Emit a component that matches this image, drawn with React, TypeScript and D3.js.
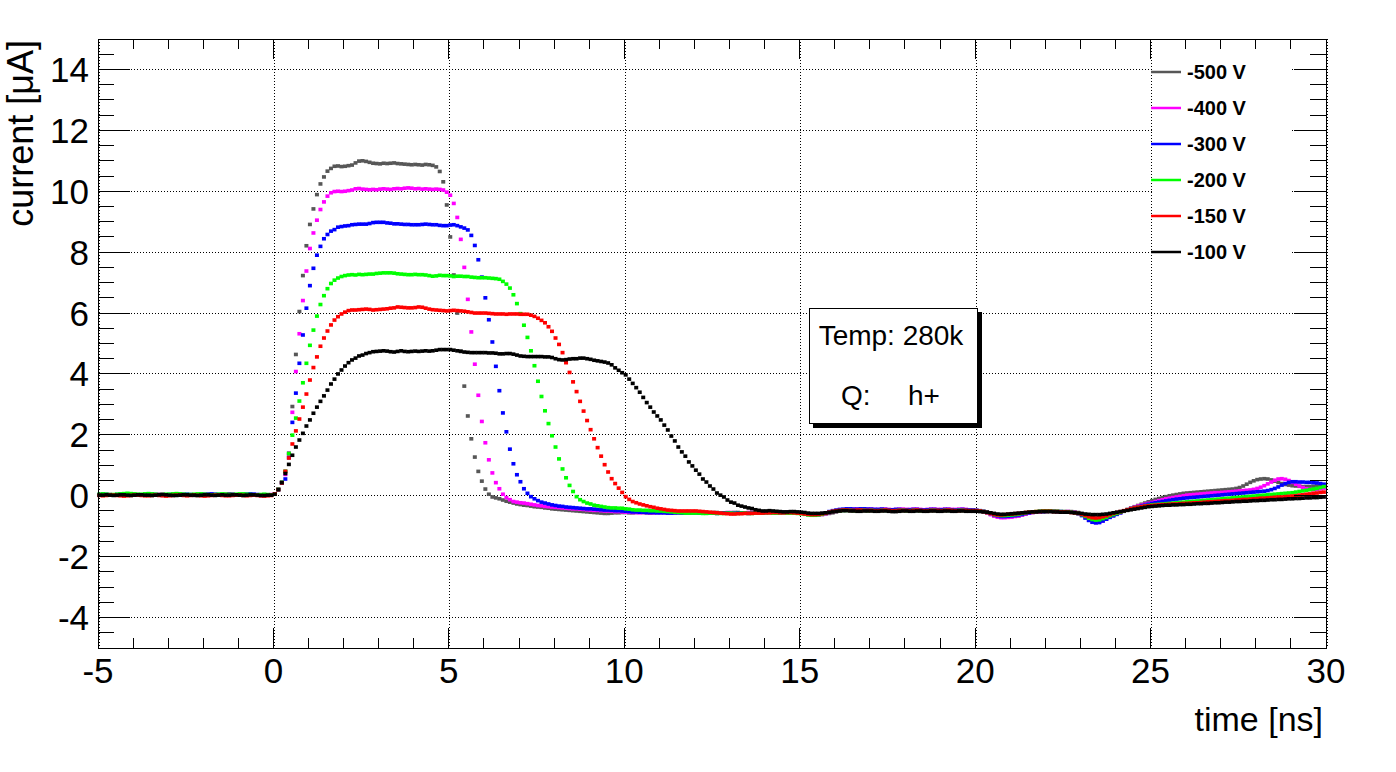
import React from "react";
import * as d3 from "d3";

// time axis of the samples: first sample and spacing (ns)
const T0 = -4.96;
const DT = 0.1;

const voltages = ["-500 V", "-400 V", "-300 V", "-200 V", "-150 V", "-100 V"];
const seriesColors = ["#575757", "#ff00ff", "#0000ff", "#00ff00", "#ff0000", "#000000"];

const xTickLabels = [-5, 0, 5, 10, 15, 20, 25, 30];
const yTickLabels = [-4, -2, 0, 2, 4, 6, 8, 10, 12, 14];

// current [uA], one value per sample
const i500 = [
  0.03,0.04,0.04,0.03,0.02,0.03,0.04,0.05,0.04,0.03, 0.02,0.02,0.03,0.04,0.04,0.03,0.02,0.03,0.04,0.03,
  0.03,0.04,0.05,0.05,0.04,0.03,0.02,0.01,0.02,0.03, 0.04,0.04,0.03,0.03,0.02,0.03,0.05,0.06,0.05,0.03,
  0.02,0.02,0.03,0.04,0.04,0.03,0.02,0.02,0.03,0.03,
  0.06,0.22,0.45,0.80,1.40,2.93,4.64,6.05,7.23,8.21,
  8.91,9.42,9.89,10.24,10.47,10.66,10.75,10.82,10.83,10.81,
  10.82,10.84,10.86,10.93,10.99,11.00,10.98,10.95,10.92,10.91,
  10.90,10.92,10.91,10.92,10.93,10.91,10.90,10.89,10.88,10.87,
  10.88,10.87,10.86,10.88,10.87,10.85,10.80,10.65,10.31,9.55,
  8.50,7.25,6.00,4.75,3.60,2.62,1.87,1.27,0.80,0.48,
  0.22,0.05,-0.04,-0.07,-0.10,-0.14,-0.18,-0.21,-0.24,-0.27,
  -0.29,-0.31,-0.32,-0.34,-0.36,-0.37,-0.38,-0.40,-0.41,-0.43,
  -0.44,-0.45,-0.46,-0.47,-0.48,-0.49,-0.50,-0.51,-0.52,-0.53,
  -0.54,-0.55,-0.56,-0.57,-0.58,-0.58,-0.57,-0.56,-0.56,-0.55,
  -0.55,-0.56,-0.56,-0.55,-0.54,-0.55,-0.56,-0.57,-0.56,-0.55,
  -0.55,-0.54,-0.55,-0.56,-0.56,-0.55,-0.54,-0.55,-0.56,-0.56,
  -0.55,-0.55,-0.56,-0.57,-0.56,-0.55,-0.55,-0.56,-0.57,-0.57,
  -0.56,-0.55,-0.55,-0.56,-0.57,-0.56,-0.55,-0.55,-0.56,-0.56,
  -0.55,-0.54,-0.55,-0.56,-0.55,-0.54,-0.55,-0.56,-0.56,-0.55,
  -0.56,-0.58,-0.60,-0.61,-0.62,-0.61,-0.60,-0.59,-0.58,-0.56,
  -0.53,-0.50,-0.48,-0.47,-0.47,-0.46,-0.46,-0.47,-0.47,-0.46,
  -0.46,-0.47,-0.47,-0.46,-0.46,-0.47,-0.48,-0.47,-0.46,-0.46,
  -0.47,-0.47,-0.46,-0.46,-0.47,-0.48,-0.47,-0.46,-0.46,-0.47,
  -0.47,-0.46,-0.46,-0.47,-0.47,-0.46,-0.46,-0.47,-0.48,-0.48,
  -0.49,-0.50,-0.52,-0.55,-0.60,-0.65,-0.68,-0.70,-0.70,-0.69,
  -0.68,-0.67,-0.66,-0.63,-0.60,-0.57,-0.55,-0.53,-0.52,-0.52,
  -0.52,-0.51,-0.51,-0.52,-0.53,-0.53,-0.52,-0.52,-0.53,-0.55,
  -0.60,-0.66,-0.72,-0.76,-0.78,-0.78,-0.75,-0.72,-0.68,-0.64,
  -0.60,-0.55,-0.50,-0.45,-0.40,-0.36,-0.32,-0.28,-0.24,-0.20,
  -0.16,-0.12,-0.09,-0.06,-0.03,0.00,0.02,0.04,0.06,0.08,
  0.09,0.10,0.11,0.12,0.13,0.14,0.15,0.16,0.17,0.18,
  0.19,0.20,0.21,0.22,0.24,0.27,0.32,0.38,0.44,0.49,
  0.53,0.55,0.56,0.55,0.52,0.48,0.44,0.40,0.37,0.35,
  0.33,0.32,0.31,0.30,0.30,0.30,0.31,0.32,0.33,0.34,
];

const i400 = [
  0.02,0.03,0.04,0.04,0.03,0.02,0.03,0.04,0.03,0.03, 0.04,0.04,0.03,0.02,0.02,0.03,0.04,0.05,0.04,0.03,
  0.02,0.02,0.03,0.04,0.04,0.03,0.03,0.02,0.03,0.04, 0.05,0.05,0.04,0.03,0.02,0.02,0.03,0.04,0.04,0.03,
  0.02,0.03,0.04,0.04,0.03,0.02,0.01,0.02,0.03,0.04,
  0.06,0.21,0.44,0.70,1.35,2.74,4.08,5.32,6.41,7.38,
  8.12,8.63,9.05,9.40,9.65,9.84,9.95,9.99,10.00,9.99,
  10.00,10.02,10.04,10.08,10.09,10.07,10.06,10.05,10.06,10.05,
  10.07,10.08,10.07,10.06,10.08,10.09,10.08,10.10,10.11,10.10,
  10.08,10.09,10.07,10.08,10.07,10.06,10.07,10.06,10.04,9.97,
  9.87,9.60,9.14,8.42,7.50,6.45,5.38,4.32,3.30,2.44,
  1.74,1.18,0.75,0.43,0.23,0.05,-0.06,-0.13,-0.19,-0.21,
  -0.23,-0.24,-0.26,-0.28,-0.30,-0.32,-0.33,-0.35,-0.36,-0.37,
  -0.38,-0.39,-0.40,-0.41,-0.42,-0.43,-0.43,-0.44,-0.45,-0.46,
  -0.47,-0.48,-0.48,-0.49,-0.50,-0.50,-0.51,-0.52,-0.52,-0.53,
  -0.54,-0.54,-0.55,-0.55,-0.56,-0.55,-0.55,-0.56,-0.56,-0.55,
  -0.55,-0.56,-0.56,-0.55,-0.55,-0.56,-0.57,-0.56,-0.55,-0.55,
  -0.56,-0.56,-0.55,-0.55,-0.56,-0.57,-0.57,-0.56,-0.56,-0.55,
  -0.55,-0.56,-0.57,-0.57,-0.56,-0.55,-0.55,-0.56,-0.56,-0.55,
  -0.55,-0.56,-0.56,-0.55,-0.55,-0.56,-0.57,-0.57,-0.56,-0.56,
  -0.57,-0.59,-0.61,-0.62,-0.63,-0.63,-0.62,-0.60,-0.57,-0.54,
  -0.51,-0.48,-0.46,-0.45,-0.45,-0.44,-0.44,-0.45,-0.45,-0.44,
  -0.44,-0.45,-0.45,-0.44,-0.44,-0.45,-0.46,-0.45,-0.44,-0.44,
  -0.45,-0.45,-0.44,-0.44,-0.45,-0.46,-0.45,-0.44,-0.44,-0.45,
  -0.45,-0.44,-0.44,-0.45,-0.45,-0.44,-0.44,-0.45,-0.46,-0.47,
  -0.48,-0.50,-0.53,-0.57,-0.62,-0.67,-0.70,-0.72,-0.72,-0.71,
  -0.70,-0.68,-0.66,-0.63,-0.60,-0.57,-0.55,-0.53,-0.52,-0.51,
  -0.51,-0.50,-0.50,-0.51,-0.52,-0.52,-0.52,-0.53,-0.55,-0.58,
  -0.64,-0.72,-0.80,-0.86,-0.88,-0.87,-0.82,-0.76,-0.70,-0.65,
  -0.60,-0.55,-0.50,-0.46,-0.42,-0.38,-0.34,-0.31,-0.28,-0.25,
  -0.22,-0.19,-0.16,-0.13,-0.10,-0.08,-0.06,-0.04,-0.02,0.00,
  0.02,0.03,0.04,0.05,0.06,0.07,0.08,0.09,0.10,0.10,
  0.11,0.12,0.13,0.14,0.15,0.16,0.17,0.18,0.19,0.21,
  0.24,0.28,0.33,0.39,0.45,0.51,0.55,0.56,0.54,0.50,
  0.44,0.38,0.32,0.27,0.23,0.21,0.20,0.21,0.23,0.25,
];

const i300 = [
  0.04,0.05,0.04,0.03,0.03,0.04,0.05,0.05,0.06,0.05, 0.04,0.03,0.03,0.04,0.05,0.05,0.04,0.03,0.02,0.03,
  0.04,0.04,0.03,0.03,0.04,0.05,0.04,0.03,0.03,0.04, 0.04,0.05,0.06,0.05,0.04,0.03,0.03,0.04,0.04,0.03,
  0.03,0.04,0.05,0.06,0.05,0.04,0.03,0.02,0.03,0.03,
  0.06,0.20,0.42,0.55,1.25,2.41,3.37,4.35,5.28,6.16,
  6.90,7.47,7.90,8.19,8.44,8.58,8.69,8.74,8.82,8.84,
  8.86,8.87,8.90,8.91,8.92,8.92,8.92,8.94,8.97,8.98,
  8.98,8.98,8.96,8.95,8.93,8.93,8.92,8.91,8.91,8.90,
  8.90,8.90,8.91,8.92,8.91,8.90,8.90,8.88,8.87,8.87,
  8.89,8.90,8.87,8.83,8.79,8.73,8.55,8.22,7.75,7.18,
  6.50,5.78,5.05,4.25,3.45,2.72,2.10,1.53,1.05,0.69,
  0.46,0.23,0.08,-0.03,-0.10,-0.16,-0.21,-0.24,-0.27,-0.30,
  -0.32,-0.34,-0.35,-0.37,-0.38,-0.39,-0.40,-0.41,-0.42,-0.43,
  -0.43,-0.44,-0.45,-0.46,-0.47,-0.47,-0.48,-0.49,-0.49,-0.50,
  -0.51,-0.52,-0.53,-0.53,-0.54,-0.54,-0.55,-0.55,-0.55,-0.56,
  -0.56,-0.56,-0.57,-0.57,-0.56,-0.56,-0.57,-0.57,-0.56,-0.56,
  -0.56,-0.57,-0.57,-0.56,-0.56,-0.57,-0.58,-0.57,-0.56,-0.56,
  -0.57,-0.57,-0.56,-0.56,-0.57,-0.58,-0.57,-0.56,-0.56,-0.56,
  -0.55,-0.54,-0.54,-0.55,-0.56,-0.55,-0.54,-0.54,-0.55,-0.56,
  -0.57,-0.59,-0.61,-0.62,-0.62,-0.61,-0.59,-0.56,-0.52,-0.49,
  -0.47,-0.45,-0.44,-0.43,-0.43,-0.44,-0.44,-0.43,-0.43,-0.44,
  -0.44,-0.45,-0.45,-0.44,-0.45,-0.46,-0.46,-0.45,-0.45,-0.46,
  -0.46,-0.46,-0.45,-0.45,-0.46,-0.47,-0.46,-0.45,-0.45,-0.46,
  -0.46,-0.45,-0.45,-0.46,-0.47,-0.46,-0.45,-0.46,-0.47,-0.47,
  -0.48,-0.49,-0.51,-0.54,-0.58,-0.63,-0.66,-0.68,-0.68,-0.67,
  -0.66,-0.65,-0.63,-0.61,-0.58,-0.56,-0.54,-0.53,-0.52,-0.52,
  -0.51,-0.51,-0.51,-0.52,-0.52,-0.53,-0.53,-0.54,-0.56,-0.59,
  -0.65,-0.73,-0.81,-0.87,-0.89,-0.88,-0.83,-0.77,-0.71,-0.66,
  -0.61,-0.56,-0.51,-0.47,-0.43,-0.40,-0.37,-0.34,-0.31,-0.28,
  -0.25,-0.23,-0.21,-0.19,-0.17,-0.15,-0.13,-0.11,-0.10,-0.08,
  -0.07,-0.06,-0.05,-0.04,-0.03,-0.02,-0.01,0.00,0.01,0.02,
  0.03,0.04,0.05,0.06,0.07,0.08,0.09,0.10,0.11,0.12,
  0.13,0.14,0.15,0.17,0.20,0.24,0.29,0.35,0.40,0.44,
  0.46,0.46,0.45,0.45,0.44,0.44,0.43,0.42,0.40,0.38,
];

const i200 = [
  0.05,0.06,0.05,0.04,0.04,0.05,0.06,0.07,0.08,0.07, 0.06,0.05,0.05,0.06,0.07,0.06,0.05,0.04,0.04,0.05,
  0.05,0.06,0.07,0.06,0.05,0.04,0.04,0.05,0.06,0.06, 0.05,0.04,0.03,0.04,0.05,0.06,0.05,0.04,0.04,0.05,
  0.06,0.06,0.05,0.04,0.03,0.03,0.04,0.05,0.04,0.03,
  0.06,0.21,0.44,0.80,1.38,1.99,2.55,3.11,3.71,4.35,
  4.94,5.44,5.90,6.28,6.57,6.80,6.97,7.08,7.15,7.20,
  7.23,7.25,7.26,7.25,7.27,7.26,7.27,7.28,7.28,7.30,
  7.31,7.32,7.32,7.32,7.31,7.29,7.28,7.27,7.26,7.26,
  7.27,7.26,7.26,7.25,7.23,7.21,7.22,7.24,7.23,7.23,
  7.22,7.20,7.21,7.21,7.20,7.20,7.18,7.17,7.16,7.16,
  7.16,7.15,7.14,7.13,7.11,7.04,6.95,6.82,6.60,6.31,
  5.98,5.60,5.20,4.76,4.27,3.76,3.26,2.79,2.37,1.97,
  1.60,1.21,0.88,0.59,0.34,0.14,-0.03,-0.13,-0.19,-0.24,
  -0.27,-0.31,-0.33,-0.35,-0.37,-0.39,-0.40,-0.40,-0.41,-0.41,
  -0.43,-0.44,-0.46,-0.47,-0.47,-0.48,-0.48,-0.49,-0.49,-0.50,
  -0.50,-0.51,-0.52,-0.53,-0.54,-0.55,-0.56,-0.57,-0.57,-0.57,
  -0.57,-0.57,-0.58,-0.58,-0.57,-0.57,-0.58,-0.58,-0.58,-0.57,
  -0.57,-0.58,-0.58,-0.57,-0.57,-0.58,-0.58,-0.57,-0.57,-0.57,
  -0.56,-0.56,-0.57,-0.57,-0.56,-0.56,-0.57,-0.57,-0.57,-0.58,
  -0.59,-0.61,-0.63,-0.64,-0.64,-0.63,-0.61,-0.58,-0.55,-0.52,
  -0.50,-0.49,-0.48,-0.48,-0.48,-0.49,-0.49,-0.48,-0.48,-0.49,
  -0.48,-0.49,-0.49,-0.48,-0.48,-0.49,-0.50,-0.49,-0.48,-0.48,
  -0.49,-0.49,-0.48,-0.48,-0.49,-0.50,-0.49,-0.48,-0.48,-0.49,
  -0.49,-0.48,-0.48,-0.49,-0.49,-0.48,-0.48,-0.49,-0.49,-0.49,
  -0.49,-0.50,-0.52,-0.55,-0.58,-0.62,-0.64,-0.65,-0.65,-0.64,
  -0.63,-0.62,-0.60,-0.58,-0.56,-0.54,-0.53,-0.52,-0.51,-0.50,
  -0.50,-0.50,-0.51,-0.51,-0.52,-0.52,-0.53,-0.54,-0.56,-0.58,
  -0.62,-0.68,-0.74,-0.78,-0.80,-0.79,-0.75,-0.71,-0.66,-0.62,
  -0.58,-0.54,-0.50,-0.47,-0.44,-0.41,-0.38,-0.36,-0.34,-0.32,
  -0.30,-0.29,-0.28,-0.27,-0.26,-0.25,-0.24,-0.23,-0.22,-0.21,
  -0.20,-0.19,-0.18,-0.17,-0.16,-0.15,-0.14,-0.13,-0.12,-0.11,
  -0.10,-0.09,-0.08,-0.07,-0.06,-0.05,-0.04,-0.03,-0.02,-0.01,
  0.00,0.01,0.02,0.03,0.04,0.05,0.06,0.07,0.08,0.09,
  0.10,0.12,0.14,0.16,0.18,0.20,0.22,0.24,0.27,0.30,
];

const i150 = [
  0.01,0.00,0.01,0.02,0.02,0.01,0.00,-0.01,0.00,0.01, 0.02,0.02,0.01,0.00,0.00,0.01,0.02,0.01,0.00,-0.01,
  0.00,0.01,0.02,0.02,0.01,0.00,0.01,0.02,0.01,0.00, -0.01,0.00,0.01,0.02,0.02,0.01,0.00,0.00,0.01,0.02,
  0.02,0.01,0.00,0.01,0.02,0.01,0.00,-0.01,0.00,0.01,
  0.06,0.20,0.42,0.80,1.24,1.70,2.13,2.52,2.91,3.34,
  3.80,4.21,4.56,4.91,5.18,5.41,5.61,5.77,5.88,5.97,
  6.03,6.08,6.10,6.10,6.11,6.12,6.13,6.12,6.10,6.11,
  6.12,6.13,6.14,6.16,6.17,6.20,6.19,6.18,6.17,6.17,
  6.18,6.20,6.19,6.16,6.13,6.11,6.10,6.09,6.08,6.07,
  6.08,6.09,6.08,6.07,6.06,6.04,6.02,6.00,6.00,6.00,
  6.00,5.99,5.98,5.97,5.97,5.97,5.96,5.97,5.97,5.97,
  5.96,5.96,5.96,5.93,5.89,5.83,5.76,5.68,5.55,5.40,
  5.18,4.97,4.70,4.37,4.05,3.74,3.42,3.10,2.78,2.47,
  2.17,1.87,1.58,1.30,1.02,0.78,0.56,0.40,0.25,0.11,
  -0.03,-0.12,-0.19,-0.23,-0.27,-0.30,-0.33,-0.36,-0.38,-0.41,
  -0.43,-0.45,-0.47,-0.48,-0.49,-0.50,-0.50,-0.50,-0.50,-0.50,
  -0.50,-0.51,-0.52,-0.53,-0.54,-0.55,-0.56,-0.57,-0.58,-0.59,
  -0.60,-0.60,-0.59,-0.59,-0.58,-0.58,-0.58,-0.57,-0.57,-0.57,
  -0.56,-0.56,-0.55,-0.55,-0.56,-0.56,-0.55,-0.55,-0.56,-0.57,
  -0.58,-0.60,-0.61,-0.62,-0.62,-0.61,-0.59,-0.57,-0.54,-0.51,
  -0.49,-0.48,-0.47,-0.47,-0.48,-0.48,-0.47,-0.47,-0.48,-0.48,
  -0.48,-0.49,-0.49,-0.48,-0.47,-0.48,-0.49,-0.49,-0.48,-0.48,
  -0.48,-0.49,-0.48,-0.47,-0.48,-0.49,-0.49,-0.48,-0.48,-0.48,
  -0.49,-0.48,-0.47,-0.48,-0.49,-0.49,-0.48,-0.48,-0.49,-0.49,
  -0.49,-0.50,-0.52,-0.55,-0.58,-0.61,-0.63,-0.63,-0.62,-0.61,
  -0.60,-0.59,-0.58,-0.56,-0.55,-0.54,-0.53,-0.52,-0.52,-0.51,
  -0.51,-0.51,-0.52,-0.52,-0.53,-0.53,-0.54,-0.55,-0.56,-0.58,
  -0.61,-0.65,-0.69,-0.72,-0.73,-0.72,-0.69,-0.66,-0.62,-0.58,
  -0.55,-0.52,-0.49,-0.46,-0.43,-0.40,-0.38,-0.36,-0.34,-0.33,
  -0.32,-0.31,-0.30,-0.29,-0.29,-0.28,-0.27,-0.27,-0.26,-0.25,
  -0.25,-0.24,-0.23,-0.23,-0.22,-0.21,-0.20,-0.20,-0.19,-0.18,
  -0.17,-0.16,-0.16,-0.15,-0.14,-0.13,-0.12,-0.12,-0.11,-0.10,
  -0.09,-0.08,-0.08,-0.07,-0.06,-0.05,-0.04,-0.04,-0.03,-0.02,
  -0.01,0.00,0.02,0.03,0.05,0.06,0.08,0.09,0.11,0.12,
];

const i100 = [
  0.02,0.02,0.03,0.02,0.01,0.02,0.03,0.03,0.02,0.01, 0.02,0.03,0.03,0.02,0.02,0.01,0.02,0.03,0.04,0.03,
  0.02,0.01,0.01,0.02,0.03,0.03,0.02,0.02,0.01,0.02, 0.03,0.03,0.02,0.01,0.02,0.03,0.02,0.02,0.03,0.03,
  0.02,0.01,0.02,0.03,0.03,0.02,0.01,0.01,0.02,0.02,
  0.05,0.20,0.43,0.73,1.03,1.33,1.60,1.83,2.05,2.29,
  2.49,2.71,2.91,3.10,3.28,3.47,3.67,3.83,4.00,4.13,
  4.26,4.37,4.46,4.52,4.59,4.62,4.67,4.70,4.73,4.74,
  4.75,4.76,4.75,4.73,4.72,4.74,4.76,4.74,4.73,4.74,
  4.75,4.74,4.75,4.76,4.75,4.76,4.78,4.80,4.80,4.80,
  4.80,4.78,4.76,4.74,4.72,4.71,4.70,4.70,4.70,4.70,
  4.70,4.69,4.69,4.68,4.66,4.66,4.67,4.67,4.65,4.62,
  4.59,4.58,4.57,4.57,4.57,4.57,4.57,4.56,4.56,4.54,
  4.50,4.47,4.46,4.47,4.49,4.50,4.50,4.52,4.52,4.50,
  4.48,4.45,4.43,4.41,4.39,4.36,4.30,4.20,4.12,4.04,
  3.97,3.83,3.69,3.55,3.40,3.23,3.06,2.91,2.75,2.62,
  2.49,2.32,2.16,1.96,1.80,1.60,1.44,1.30,1.11,0.98,
  0.84,0.71,0.55,0.45,0.32,0.22,0.09,0.02,-0.04,-0.14,
  -0.21,-0.24,-0.31,-0.34,-0.37,-0.40,-0.42,-0.46,-0.48,-0.50,
  -0.50,-0.49,-0.50,-0.51,-0.52,-0.53,-0.53,-0.52,-0.52,-0.53,
  -0.54,-0.55,-0.57,-0.58,-0.58,-0.58,-0.57,-0.56,-0.55,-0.53,
  -0.51,-0.50,-0.49,-0.49,-0.50,-0.50,-0.51,-0.51,-0.50,-0.50,
  -0.50,-0.51,-0.51,-0.50,-0.50,-0.51,-0.52,-0.52,-0.51,-0.50,
  -0.50,-0.51,-0.51,-0.50,-0.50,-0.51,-0.51,-0.50,-0.50,-0.51,
  -0.51,-0.50,-0.50,-0.51,-0.51,-0.50,-0.50,-0.51,-0.51,-0.51,
  -0.51,-0.52,-0.53,-0.54,-0.56,-0.58,-0.60,-0.61,-0.61,-0.60,
  -0.59,-0.58,-0.57,-0.56,-0.55,-0.54,-0.53,-0.53,-0.52,-0.52,
  -0.52,-0.52,-0.53,-0.53,-0.54,-0.54,-0.54,-0.55,-0.56,-0.57,
  -0.58,-0.60,-0.61,-0.62,-0.62,-0.62,-0.61,-0.60,-0.58,-0.56,
  -0.54,-0.52,-0.50,-0.48,-0.46,-0.44,-0.42,-0.40,-0.38,-0.36,
  -0.35,-0.34,-0.33,-0.32,-0.31,-0.31,-0.30,-0.30,-0.29,-0.29,
  -0.28,-0.28,-0.27,-0.26,-0.26,-0.25,-0.25,-0.24,-0.23,-0.23,
  -0.22,-0.21,-0.21,-0.20,-0.19,-0.19,-0.18,-0.18,-0.17,-0.16,
  -0.16,-0.15,-0.15,-0.14,-0.13,-0.13,-0.12,-0.12,-0.11,-0.10,
  -0.10,-0.09,-0.09,-0.08,-0.07,-0.07,-0.06,-0.06,-0.05,-0.04,
];

const seriesValues = [i500, i400, i300, i200, i150, i100];

const W = 1396;
const H = 772;
const FONT = "'Liberation Sans', Arial, Helvetica, sans-serif";

export default function App() {
  const x = d3.scaleLinear().domain([-5, 30]).range([98, 1326]);
  const y = d3.scaleLinear().domain([-5, 15]).range([648, 39]);
  const [x0, x1] = x.range();
  const [yb, yt] = y.range();

  const xMinor = d3.range(-4, 30, 1).filter((v) => v % 5 !== 0);
  const yMinor = d3.range(-4.5, 15, 0.5).filter((v) => Math.abs(v % 2) > 1e-9);

  return (
    <svg
      width={W}
      height={H}
      style={{ position: "absolute", left: 0, top: 0 }}
      fontFamily={FONT}
    >
      <rect x={0} y={0} width={W} height={H} fill="#fff" />

      {/* grid */}
      <g stroke="#000" strokeWidth={1} strokeDasharray="1 2" shapeRendering="crispEdges">
        {xTickLabels.map((v) => (
          <line key={"gx" + v} x1={x(v) + 1} x2={x(v) + 1} y1={yt} y2={yb} />
        ))}
        {yTickLabels.map((v) => (
          <line key={"gy" + v} x1={x0} x2={x1} y1={y(v)} y2={y(v)} />
        ))}
      </g>

      {/* data markers */}
      {seriesValues.map((vals, si) => (
        <g key={"s" + si} fill={seriesColors[si]}>
          {vals.map((v, i) => (
            <rect
              key={i}
              x={x(T0 + i * DT) - 2}
              y={y(v) - 1.8}
              width={4}
              height={3.6}
            />
          ))}
        </g>
      ))}

      {/* legend (white box hides grid) */}
      <rect x={1152} y={50} width={140} height={220} fill="#fff" />
      {voltages.map((lab, i) => {
        const cy = 72 + i * 36;
        return (
          <g key={"lg" + i}>
            <line x1={1151} x2={1181} y1={cy} y2={cy} stroke={seriesColors[i]} strokeWidth={2.5} />
            <text x={1187} y={cy + 7} fontSize={20} fontWeight="bold" fill="#000">
              {lab}
            </text>
          </g>
        );
      })}

      {/* frame */}
      <rect
        x={x0}
        y={yt}
        width={x1 - x0}
        height={yb - yt}
        fill="none"
        stroke="#000"
        strokeWidth={1}
        shapeRendering="crispEdges"
      />

      {/* ticks */}
      <g stroke="#000" strokeWidth={1} shapeRendering="crispEdges">
        {xTickLabels.map((v) => (
          <g key={"tx" + v}>
            <line x1={x(v)} x2={x(v)} y1={yb} y2={yb - 20} />
            <line x1={x(v)} x2={x(v)} y1={yt} y2={yt + 20} />
          </g>
        ))}
        {xMinor.map((v) => (
          <g key={"mx" + v}>
            <line x1={x(v)} x2={x(v)} y1={yb} y2={yb - 10} />
            <line x1={x(v)} x2={x(v)} y1={yt} y2={yt + 10} />
          </g>
        ))}
        {yTickLabels.map((v) => (
          <g key={"ty" + v}>
            <line x1={x0} x2={x0 + 32} y1={y(v)} y2={y(v)} />
            <line x1={x1} x2={x1 - 32} y1={y(v)} y2={y(v)} />
          </g>
        ))}
        {yMinor.map((v) => (
          <g key={"my" + v}>
            <line x1={x0} x2={x0 + 16} y1={y(v)} y2={y(v)} />
            <line x1={x1} x2={x1 - 16} y1={y(v)} y2={y(v)} />
          </g>
        ))}
      </g>

      {/* tick labels */}
      <g fontSize={35} fill="#000">
        {xTickLabels.map((v) => (
          <text key={"lx" + v} x={x(v)} y={683} textAnchor="middle">
            {String(v)}
          </text>
        ))}
        {yTickLabels.map((v) => (
          <text key={"ly" + v} x={89} y={y(v) + 12.5} textAnchor="end">
            {String(v)}
          </text>
        ))}
      </g>

      {/* axis titles */}
      <text x={1323} y={731} fontSize={34} textAnchor="end" fill="#000">
        time [ns]
      </text>
      <text
        transform={`translate(33,40) rotate(-90)`}
        fontSize={36}
        textAnchor="end"
        fill="#000"
      >
        current [μA]
      </text>

      {/* info box */}
      <rect x={813} y={312} width={169} height={116} fill="#000" />
      <rect x={809.5} y={308.5} width={168} height={115} fill="#fff" stroke="#000" strokeWidth={1} />
      <text x={891} y={345} fontSize={28} textAnchor="middle" fill="#000">
        Temp: 280k
      </text>
      <text y={405} fontSize={28} fill="#000">
        <tspan x={841}>Q:</tspan>
        <tspan x={908}>h+</tspan>
      </text>
    </svg>
  );
}
